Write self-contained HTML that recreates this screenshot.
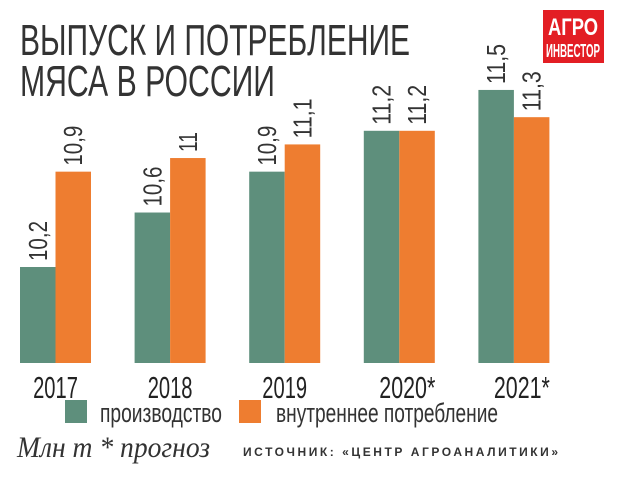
<!DOCTYPE html>
<html><head><meta charset="utf-8"><style>
body{margin:0;width:620px;height:480px;background:#fff;overflow:hidden;font-family:"Liberation Sans",sans-serif;}
svg text{font-family:"Liberation Sans",sans-serif;}
</style></head><body>
<svg width="620" height="480">
<text x="20" y="55" font-size="44" fill="#333" textLength="390" lengthAdjust="spacingAndGlyphs">ВЫПУСК И ПОТРЕБЛЕНИЕ</text>
<text x="20" y="96" font-size="44" fill="#333" textLength="255" lengthAdjust="spacingAndGlyphs">МЯСА В РОССИИ</text>
<g>
<rect x="543" y="10" width="61" height="53" fill="#e31e24"/>
<text x="573" y="35" font-size="24" font-weight="bold" fill="#fff" text-anchor="middle" textLength="50" lengthAdjust="spacingAndGlyphs">АГРО</text>
<text x="573" y="57" font-size="18" font-weight="bold" fill="#fff" text-anchor="middle" textLength="54" lengthAdjust="spacingAndGlyphs">ИНВЕСТОР</text>
</g>
<g id="bars"></g>
<g>
<rect x="65" y="400" width="22" height="23" fill="#5e8f7c"/>
<text x="100" y="422" font-size="27" fill="#333" textLength="122" lengthAdjust="spacingAndGlyphs">производство</text>
<rect x="239" y="400" width="22" height="23" fill="#ee7d30"/>
<text x="276" y="422" font-size="27" fill="#333" textLength="222" lengthAdjust="spacingAndGlyphs">внутреннее потребление</text>
</g>
<text x="17" y="457" font-size="30" font-style="italic" fill="#333" style="font-family:'Liberation Serif',serif" textLength="193" lengthAdjust="spacingAndGlyphs">Млн т * прогноз</text>
<text x="243" y="456" font-size="12" font-weight="bold" fill="#333" textLength="315" lengthAdjust="spacing">ИСТОЧНИК: «ЦЕНТР АГРОАНАЛИТИКИ»</text>
</svg>
<script>
const categories=["2017","2018","2019","2020*","2021*"];
const production=[10.2,10.6,10.9,11.2,11.5];
const consumption=[10.9,11.0,11.1,11.2,11.3];
const prodLabels=["10,2","10,6","10,9","11,2","11,5"];
const consLabels=["10,9","11","11,1","11,2","11,3"];
const NS="http://www.w3.org/2000/svg";
const g=document.getElementById('bars');
const base=363;
function y(v){return 267-(v-10.2)*136.2;}
function x(i){return 20+i*114.6;}
function mk(t,a){const e=document.createElementNS(NS,t);for(const k in a)e.setAttribute(k,a[k]);g.appendChild(e);return e;}
categories.forEach((c,i)=>{
 const series=[[production[i],prodLabels[i],"#5e8f7c","production"],[consumption[i],consLabels[i],"#ee7d30","consumption"]];
 series.forEach((s,j)=>{
  const bx=x(i)+j*35.5, by=y(s[0]);
  const r=mk('rect',{x:bx,y:by,width:35.5,height:base-by,fill:s[2]});
  
  
  const cx=bx+17.75+9, ty=by-6;
  const t=mk('text',{x:cx,y:ty,'font-size':26,fill:'#333',textLength:s[1].length*10,lengthAdjust:'spacingAndGlyphs',transform:'rotate(-90 '+cx+' '+ty+')'});
  t.textContent=s[1];
  
  
 });
 const l=mk('text',{x:x(i)+35.5+(c.includes('*')?8:0),y:398,'font-size':31,fill:'#222','text-anchor':'middle',textLength:c.length*11.2,lengthAdjust:'spacingAndGlyphs'});
 l.textContent=c;
 
 
});
</script>
</body></html>
